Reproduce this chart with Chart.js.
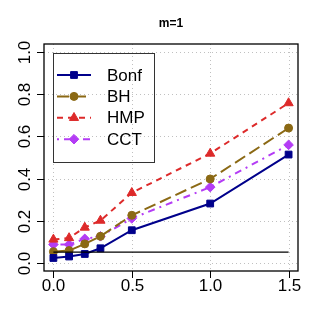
<!DOCTYPE html>
<html>
<head>
<meta charset="utf-8">
<script src="https://cdn.jsdelivr.net/npm/chart.js@4"></script>
<style>
  html, body { margin: 0; padding: 0; background: #fff; }
  #wrap { width: 321px; height: 327px; }
</style>
</head>
<body>
<div id="wrap"><canvas id="chart" width="321" height="327"></canvas></div>
<script>
// ── Data ──────────────────────────────────────────────────────────────────────
const xVals = [0, 0.1, 0.2, 0.3, 0.5, 1.0, 1.5];
const bonf = [0.022, 0.029, 0.041, 0.068, 0.154, 0.281, 0.514];
const bh   = [0.052, 0.057, 0.089, 0.125, 0.225, 0.398, 0.640];
const hmp  = [0.110, 0.117, 0.167, 0.200, 0.332, 0.519, 0.759];
const cct  = [0.086, 0.086, 0.113, 0.125, 0.210, 0.359, 0.560];
const alphaLevel = 0.05;

const xTicks = [0, 0.5, 1.0, 1.5];
const xTickLabels = ["0.0", "0.5", "1.0", "1.5"];
const yTicks = [0, 0.2, 0.4, 0.6, 0.8, 1.0];
const yTickLabels = ["0.0", "0.2", "0.4", "0.6", "0.8", "1.0"];
const title = "m=1";

const FONT = "'Liberation Sans', Arial, sans-serif";

// ── Series ────────────────────────────────────────────────────────────────────
function pts(ys) { return xVals.map((x, i) => ({ x, y: ys[i] })); }

const series = [
  { label: "Bonf", data: bonf, color: "#00008b", dash: [], style: "rect", r: 4.8 },
  { label: "BH", data: bh, color: "#8b6914", dash: [12, 5], style: "circle", r: 4 },
  { label: "HMP", data: hmp, color: "#dd2a2a", dash: [6, 5], style: "triangle", r: 5.3 },
  { label: "CCT", data: cct, color: "#b43cf5", dash: [2, 5, 7, 5], style: "rectRot", r: 4.8 },
];

const datasets = series.map(s => ({
  label: s.label,
  data: pts(s.data),
  borderColor: s.color,
  backgroundColor: s.color,
  borderWidth: 2,
  borderDash: s.dash,
  pointStyle: s.style,
  pointRadius: s.r,
  pointBorderWidth: 1,
  tension: 0,
}));

// reference line at the nominal level
datasets.unshift({
  label: "alpha",
  data: [{ x: xVals[0], y: alphaLevel }, { x: xVals[xVals.length - 1], y: alphaLevel }],
  borderColor: "#000",
  borderWidth: 1.4,
  pointRadius: 0,
});

// ── R-style frame: grid, box, ticks, labels, legend ──────────────────────────
const rFrame = {
  id: "rFrame",
  beforeDatasetsDraw(chart) {
    const { ctx, chartArea: a, scales: { x, y } } = chart;
    ctx.save();
    ctx.strokeStyle = "#c0c0c0";
    ctx.lineWidth = 1;
    ctx.setLineDash([1, 3]);
    xTicks.forEach(v => {
      const px = Math.round(x.getPixelForValue(v)) + 0.5;
      ctx.beginPath(); ctx.moveTo(px, a.top); ctx.lineTo(px, a.bottom); ctx.stroke();
    });
    yTicks.forEach(v => {
      const py = Math.round(y.getPixelForValue(v)) + 0.5;
      ctx.beginPath(); ctx.moveTo(a.left, py); ctx.lineTo(a.right, py); ctx.stroke();
    });
    ctx.restore();
  },
  afterDraw(chart) {
    const { ctx, chartArea: a, scales: { x, y } } = chart;
    ctx.save();
    ctx.setLineDash([]);
    ctx.strokeStyle = "#000";
    ctx.lineWidth = 1.3;
    ctx.strokeRect(a.left, a.top, a.right - a.left, a.bottom - a.top);

    // ticks
    ctx.lineWidth = 1;
    ctx.fillStyle = "#000";
    ctx.font = "17px " + FONT;
    ctx.textAlign = "center";
    ctx.textBaseline = "middle";
    xTicks.forEach((v, i) => {
      const px = Math.round(x.getPixelForValue(v)) + 0.5;
      ctx.beginPath(); ctx.moveTo(px, a.bottom); ctx.lineTo(px, a.bottom + 7); ctx.stroke();
      ctx.fillText(xTickLabels[i], px, a.bottom + 15);
    });
    yTicks.forEach((v, i) => {
      const py = Math.round(y.getPixelForValue(v)) + 0.5;
      ctx.beginPath(); ctx.moveTo(a.left, py); ctx.lineTo(a.left - 7, py); ctx.stroke();
      ctx.save();
      ctx.translate(a.left - 19, py);
      ctx.rotate(-Math.PI / 2);
      ctx.fillText(yTickLabels[i], 0, 0);
      ctx.restore();
    });

    // title
    ctx.font = "bold 12px " + FONT;
    ctx.fillText(title, (a.left + a.right) / 2, 24);

    // legend
    const lx = 53, ly = 53, lw = 101, lh = 109;
    ctx.strokeStyle = "#333";
    ctx.lineWidth = 1;
    ctx.strokeRect(lx + 0.5, ly + 0.5, lw, lh);
    ctx.font = "17px " + FONT;
    ctx.textAlign = "left";
    series.forEach((s, i) => {
      const cy = 75 + i * 21.4;
      ctx.strokeStyle = s.color;
      ctx.fillStyle = s.color;
      ctx.lineWidth = 2;
      ctx.setLineDash(s.dash);
      ctx.beginPath(); ctx.moveTo(57, cy); ctx.lineTo(91, cy); ctx.stroke();
      ctx.setLineDash([]);
      ctx.lineWidth = 1;
      Chart.helpers.drawPoint(ctx, { pointStyle: s.style, radius: s.r, rotation: 0, borderWidth: 1 }, 74, cy);
      ctx.fillStyle = "#000";
      ctx.fillText(s.label, 107, cy + 1);
    });
    ctx.restore();
  },
};

// ── Chart ─────────────────────────────────────────────────────────────────────
new Chart(document.getElementById("chart"), {
  type: "line",
  data: { datasets },
  options: {
    responsive: false,
    animation: false,
    layout: { padding: { left: 44, right: 23, top: 44, bottom: 56 } },
    plugins: { legend: { display: false }, tooltip: { enabled: false } },
    scales: {
      x: { type: "linear", min: -0.06, max: 1.56, display: false },
      y: { type: "linear", min: -0.04, max: 1.04, display: false },
    },
  },
  plugins: [rFrame],
});
</script>
</body>
</html>
